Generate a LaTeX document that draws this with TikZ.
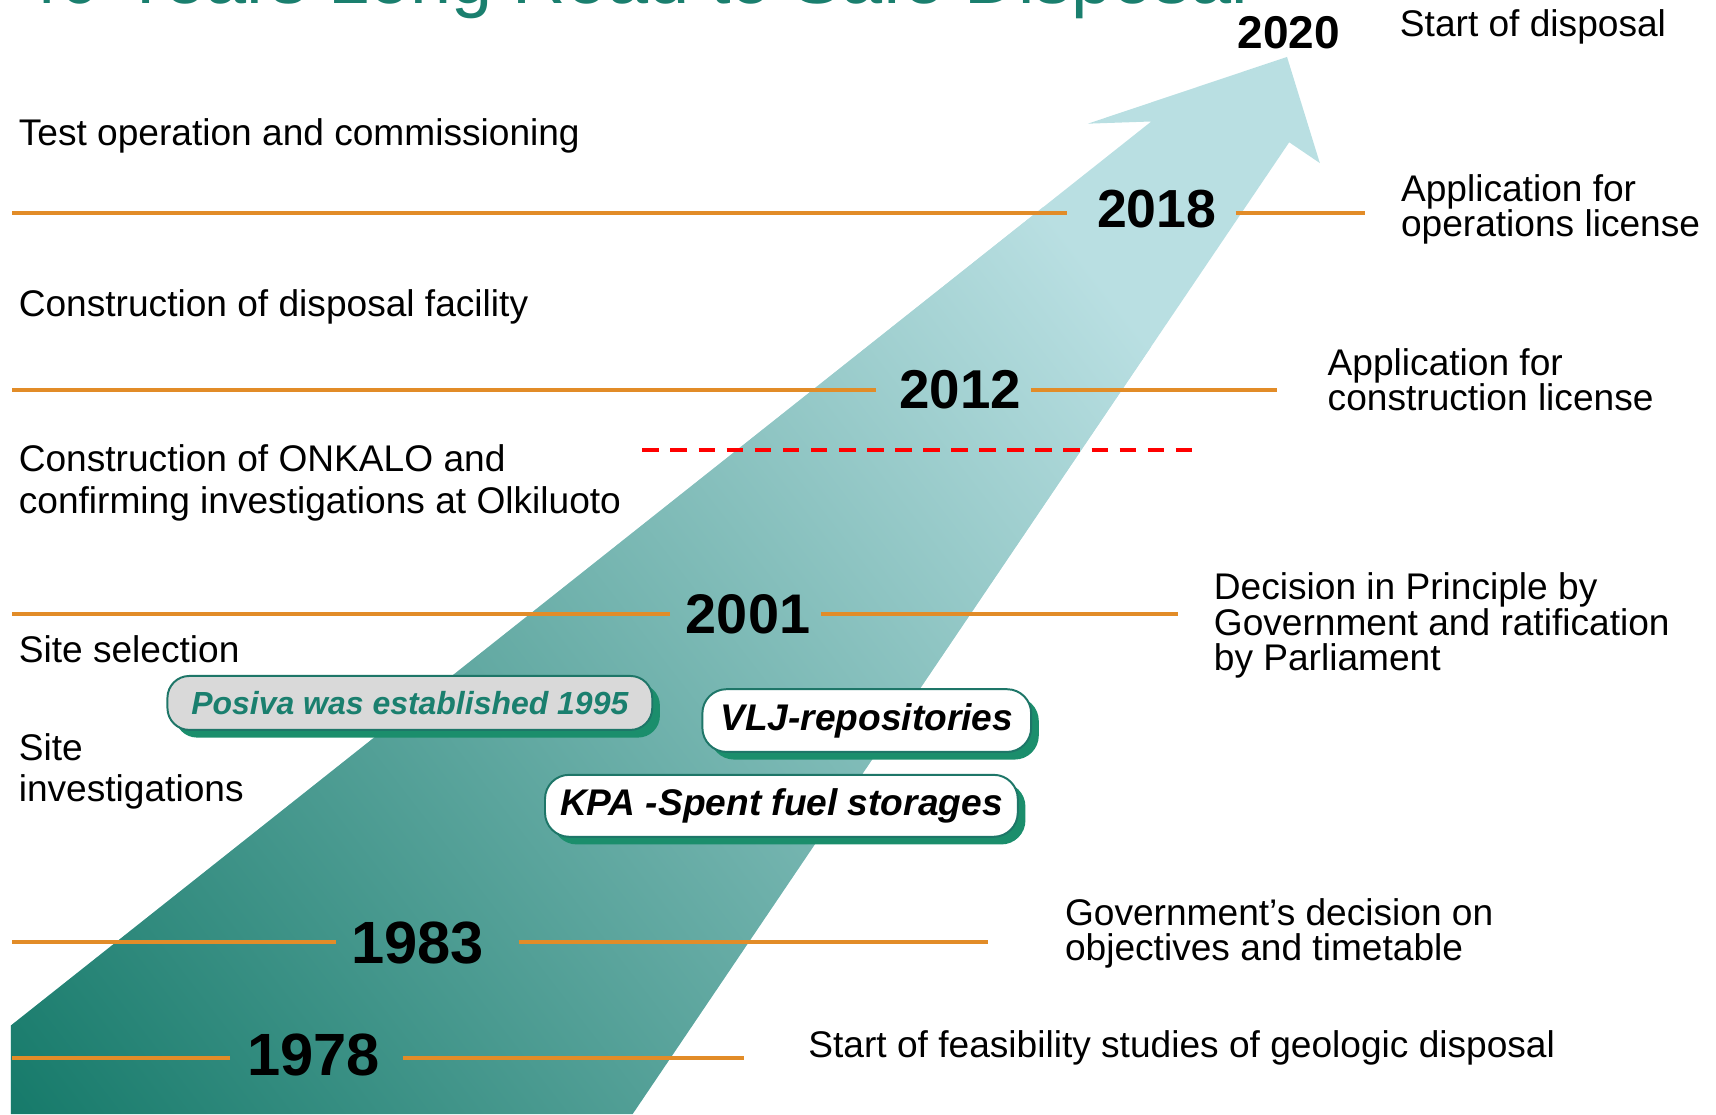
\documentclass[tikz,border=0pt]{standalone}
\usepackage{fontspec}
\setmainfont{Liberation Sans}
\usetikzlibrary{shadows}
\definecolor{tealdark}{RGB}{22,122,106}
\definecolor{tealmid}{RGB}{96,162,154}
\definecolor{lightb}{RGB}{185,223,226}
\definecolor{orangeC}{RGB}{226,140,40}
\definecolor{titleC}{RGB}{26,127,110}
\definecolor{pillborder}{RGB}{30,118,104}
\definecolor{pillshadow}{RGB}{27,142,108}
\definecolor{pillgray}{RGB}{217,217,217}
\definecolor{dashred}{RGB}{255,0,0}
\tikzset{
  body/.style={anchor=base west, inner sep=0pt, font=\fontsize{33.9}{33.9}\selectfont},
  yr/.style={anchor=base, inner sep=0pt, font=\bfseries\fontsize{#1}{#1}\selectfont},
  tl/.style={draw=orangeC, line width=3.8pt},
  pill/.style={draw=pillborder, line width=1.8pt, rounded corners=#1, inner sep=0pt,
    font=\bfseries\itshape\fontsize{33.9}{33.9}\selectfont,
    general shadow={fill=pillshadow, draw=none, shadow xshift=7pt, shadow yshift=-7pt}},
}
\begin{document}
\begin{tikzpicture}[x=1pt,y=-1pt]
\useasboundingbox (0,0) rectangle (1568,1018);
\clip (0,0) rectangle (1568,1018);

% title (cut off by the top edge, as in the original)
\node[anchor=base west, inner sep=0pt, text=titleC, font=\fontsize{67.5}{67.5}\selectfont] (title) at (17,3) {40 Years Long Road to Safe Disposal};

% big arrow
\coordinate (A) at (10,1018);
\begin{scope}
  \clip (10,1018) -- (10,937) -- (1052,111) -- (994,113) -- (1176,52)
        -- (1206,149) -- (1178,130) -- (578,1018) -- cycle;
  \fill[lightb] (0,0) rectangle (1568,1018);
  \begin{scope}[transform canvas={rotate around={37.8:(A)}}]
    \shade[left color=tealdark, middle color=tealmid, right color=lightb] (10,-500) rectangle (1263,2500);
  \end{scope}
\end{scope}

% year labels
\node[yr=42] (y2020) at (1177.5,44) {2020};
\node[yr=49] (y2018) at (1057,208) {2018};
\node[yr=50] (y2012) at (877.5,373) {2012};
\node[yr=51] (y2001) at (683.5,579) {2001};
\node[yr=54.5] (y1983) at (381.5,880) {1983};
\node[yr=54.5] (y1978) at (286.5,983) {1978};

% timeline lines
\coordinate (a2018) at (11,195);  \coordinate (b2018) at (975,195);
\coordinate (c2018) at (1129,195); \coordinate (d2018) at (1247,195);
\coordinate (a2012) at (11,356);  \coordinate (b2012) at (800,356);
\coordinate (c2012) at (942,356); \coordinate (d2012) at (1167,356);
\coordinate (a2001) at (11,561);  \coordinate (b2001) at (612,561);
\coordinate (c2001) at (750,561); \coordinate (d2001) at (1076,561);
\coordinate (a1983) at (11,861);  \coordinate (b1983) at (307,861);
\coordinate (c1983) at (474,861); \coordinate (d1983) at (903,861);
\coordinate (a1978) at (11,966.5);  \coordinate (b1978) at (210,966.5);
\coordinate (c1978) at (368,966.5); \coordinate (d1978) at (680,966.5);
\draw[tl] (a2018) -- (b2018); \draw[tl] (c2018) -- (d2018);
\draw[tl] (a2012) -- (b2012); \draw[tl] (c2012) -- (d2012);
\draw[tl] (a2001) -- (b2001); \draw[tl] (c2001) -- (d2001);
\draw[tl] (a1983) -- (b1983); \draw[tl] (c1983) -- (d1983);
\draw[tl] (a1978) -- (b1978); \draw[tl] (c1978) -- (d1978);

% dashed red line
\coordinate (dA) at (587,411); \coordinate (dB) at (1089,411);
\draw[dashred, line width=4pt, dash pattern=on 15.2pt off 10.45pt] (dA) -- (dB);

% left texts
\node[body] (t1) at (17,132.5) {Test operation and commissioning};
\node[body] (t2) at (17,289.5) {Construction of disposal facility};
\node[body] (t3a) at (17,431) {Construction of ONKALO and};
\node[body] (t3b) at (17,469) {confirming investigations at Olkiluoto};
\node[body] (t4) at (17,605) {Site selection};
\node[body] (t5a) at (17,695) {Site};
\node[body] (t5b) at (17,732) {investigations};

% right texts
\node[body] (r1) at (1279,33.5) {Start of disposal};
\node[body] (r2a) at (1280,183.7) {Application for};
\node[body] (r2b) at (1280,216.4) {operations license};
\node[body] (r3a) at (1213,343.3) {Application for};
\node[body] (r3b) at (1213,375.3) {construction license};
\node[body] (r4a) at (1109,547.5) {Decision in Principle by};
\node[body] (r4b) at (1109,580.3) {Government and ratification};
\node[body] (r4c) at (1109,612.4) {by Parliament};
\node[body] (r5a) at (973,845.9) {Government’s decision on};
\node[body] (r5b) at (973,877.3) {objectives and timetable};
\node[body] (r6) at (738.5,966) {Start of feasibility studies of geologic disposal};

% pills
\node[pill=20pt, fill=pillgray, text=titleC, minimum width=443pt, minimum height=49.3pt,
      font=\bfseries\itshape\fontsize{29.2}{29.2}\selectfont] (posiva) at (374.5,642.3) {Posiva was established 1995};
\node[pill=22pt, fill=white, minimum width=300.4pt, minimum height=57.3pt] (vlj) at (792,658.4) {VLJ-repositories};
\node[pill=22pt, fill=white, minimum width=432pt, minimum height=56.6pt] (kpa) at (714,736.3) {KPA -Spent fuel storages};
\end{tikzpicture}
\end{document}
